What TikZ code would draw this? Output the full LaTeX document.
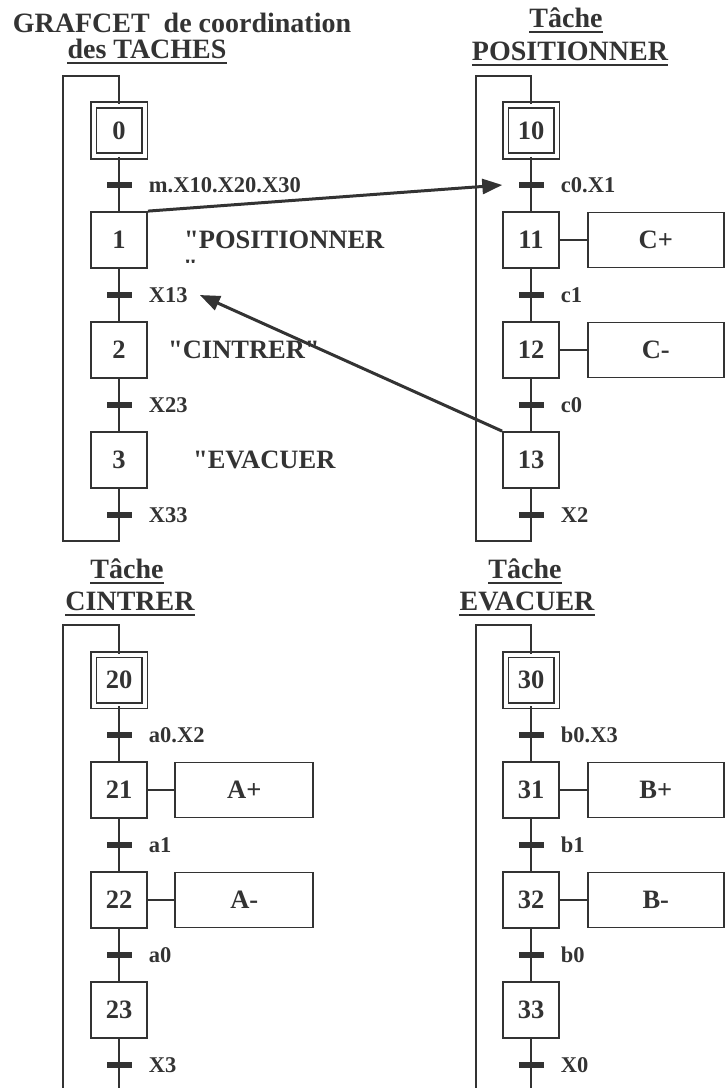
\documentclass[tikz,border=0pt]{standalone}
\usepackage{fontspec}
\setmainfont{Liberation Serif}[Ligatures=TeXOff]
\usepackage{xcolor}
\usetikzlibrary{positioning, arrows.meta}
\definecolor{trait}{HTML}{333333}
\newcommand{\taille}[1]{\fontsize{#1}{#1}\selectfont\bfseries}

\tikzset{
    etape/.style={draw=trait, line width=1.8pt, minimum size=56pt, inner sep=0pt,
        text=trait, font=\taille{26.5}},
    etapeinit/.style={etape, double, double distance=4pt, line width=1.7pt, minimum size=51pt},
    recep/.style={fill=trait, minimum width=25pt, minimum height=6pt, inner sep=0pt},
    cond/.style={inner sep=0pt, text=trait, font=\taille{22.5}},
    action/.style={draw=trait, line width=1.8pt, minimum width=136pt, minimum height=55pt,
        inner sep=0pt, text=trait, font=\taille{26.5}},
    comment/.style={inner sep=0pt, text=trait, font=\taille{26.5}},
    titre/.style={anchor=base, inner sep=0pt, text=trait, font=\taille{28}},
    souligne/.style={draw=trait, line width=2pt},
    lien/.style={draw=trait, line width=1.8pt},
    fleche/.style={draw=trait, line width=3pt, -{Triangle[length=20pt,width=15pt]}}
}

\begin{document}
\begin{tikzpicture}[x=1pt, y=-1pt]
    \useasboundingbox (0,0) rectangle (725,1088);

    % Titles
    \node[titre] (tt0) at (182,32) {GRAFCET\ \ de coordination};
    \node[titre] (tc0) at (147,58) {des TACHES};
    \node[titre] (tt1) at (566,27) {Tâche};
    \node[titre] (tc1) at (570,60) {POSITIONNER};
    \node[titre] (tt2) at (127,578) {Tâche};
    \node[titre] (tc2) at (130,610) {CINTRER};
    \node[titre] (tt3) at (525,578) {Tâche};
    \node[titre] (tc3) at (527,610) {EVACUER};
    \draw[souligne] ([yshift=-5pt]tc0.base west) -- ([yshift=-5pt]tc0.base east);
    \foreach \n in {tt1,tc1,tt2,tc2,tt3,tc3}
        \draw[souligne] ([yshift=-4.5pt]\n.base west) -- ([yshift=-4.5pt]\n.base east);

    % ---- GRAFCET de coordination ----
    \node[etapeinit] (s0) at (119,130.5) {0};
    \node[etape] (s1) at (119,240) {1};
    \node[etape] (s2) at (119,350) {2};
    \node[etape] (s3) at (119,460) {3};
    \node[recep] (t0) at (119,185) {};
    \node[recep] (t1) at (119,295) {};
    \node[recep] (t2) at (119,405) {};
    \node[recep] (t3) at (119,515) {};
    \node[cond, right=17pt of t0] (l0) {m.X10.X20.X30};
    \node[cond, right=17pt of t1] (l1) {X13};
    \node[cond, right=17pt of t2] (l2) {X23};
    \node[cond, right=17pt of t3] (l3) {X33};
    \node[comment, right=36pt of s1] (c1) {"POSITIONNER};
    \node[comment, right=20pt of s2] (c2) {"CINTRER"};
    \node[comment, right=45pt of s3] (c3) {"EVACUER};
    % wrapped closing quote, mostly hidden
    \begin{scope}
        \clip (180,259) rectangle (200,262.5);
        \node[comment, anchor=north west] (c1b) at (183,259.5) {"};
    \end{scope}
    \coordinate (h0) at (63,76);
    \coordinate (b0) at (119,541);
    \draw[lien] (s0) -- (s1) -- (s2) -- (s3);
    \draw[lien] (s3) -- (b0) -| (h0) -| (s0.north);

    % ---- Tache POSITIONNER ----
    \node[etapeinit] (s10) at (531,130.5) {10};
    \node[etape] (s11) at (531,240) {11};
    \node[etape] (s12) at (531,350) {12};
    \node[etape] (s13) at (531,460) {13};
    \node[recep] (t10) at (531,185) {};
    \node[recep] (t11) at (531,295) {};
    \node[recep] (t12) at (531,405) {};
    \node[recep] (t13) at (531,515) {};
    \node[cond, right=17pt of t10] (l10) {c0.X1};
    \node[cond, right=17pt of t11] (l11) {c1};
    \node[cond, right=17pt of t12] (l12) {c0};
    \node[cond, right=17pt of t13] (l13) {X2};
    \node[action, right=27pt of s11] (a11) {C+};
    \node[action, right=27pt of s12] (a12) {C-};
    \coordinate (h1) at (476,76);
    \coordinate (b1) at (531,541);
    \draw[lien] (s10) -- (s11) -- (s12) -- (s13);
    \draw[lien] (s13) -- (b1) -| (h1) -| (s10.north);
    \draw[lien] (s11) -- (a11);
    \draw[lien] (s12) -- (a12);

    % ---- Tache CINTRER ----
    \node[etapeinit] (s20) at (119,680) {20};
    \node[etape] (s21) at (119,790) {21};
    \node[etape] (s22) at (119,900) {22};
    \node[etape] (s23) at (119,1010) {23};
    \node[recep] (t20) at (119,735) {};
    \node[recep] (t21) at (119,845) {};
    \node[recep] (t22) at (119,955) {};
    \node[recep] (t23) at (119,1065) {};
    \node[cond, right=17pt of t20] (l20) {a0.X2};
    \node[cond, right=17pt of t21] (l21) {a1};
    \node[cond, right=17pt of t22] (l22) {a0};
    \node[cond, right=17pt of t23] (l23) {X3};
    \node[action, minimum width=138pt, right=26.5pt of s21] (a21) {A+};
    \node[action, minimum width=138pt, right=26.5pt of s22] (a22) {A-};
    \coordinate (h2) at (63,625);
    \coordinate (g2) at (63,1088);
    \coordinate (b2) at (119,1088);
    \draw[lien] (s20) -- (s21) -- (s22) -- (s23) -- (b2);
    \draw[lien] (g2) -- (h2) -| (s20.north);
    \draw[lien] (s21) -- (a21);
    \draw[lien] (s22) -- (a22);

    % ---- Tache EVACUER ----
    \node[etapeinit] (s30) at (531,680) {30};
    \node[etape] (s31) at (531,790) {31};
    \node[etape] (s32) at (531,900) {32};
    \node[etape] (s33) at (531,1010) {33};
    \node[recep] (t30) at (531,735) {};
    \node[recep] (t31) at (531,845) {};
    \node[recep] (t32) at (531,955) {};
    \node[recep] (t33) at (531,1065) {};
    \node[cond, right=17pt of t30] (l30) {b0.X3};
    \node[cond, right=17pt of t31] (l31) {b1};
    \node[cond, right=17pt of t32] (l32) {b0};
    \node[cond, right=17pt of t33] (l33) {X0};
    \node[action, right=27pt of s31] (a31) {B+};
    \node[action, right=27pt of s32] (a32) {B-};
    \coordinate (h3) at (476,625);
    \coordinate (g3) at (476,1088);
    \coordinate (b3) at (531,1088);
    \draw[lien] (s30) -- (s31) -- (s32) -- (s33) -- (b3);
    \draw[lien] (g3) -- (h3) -| (s30.north);
    \draw[lien] (s31) -- (a31);
    \draw[lien] (s32) -- (a32);

    % Synchronisation arrows
    \draw[fleche] (s1.north east) -- ([xshift=-16pt]t10.west);
    \draw[fleche] (s13.north west) -- ([xshift=12pt]l1.east);

\end{tikzpicture}
\end{document}
